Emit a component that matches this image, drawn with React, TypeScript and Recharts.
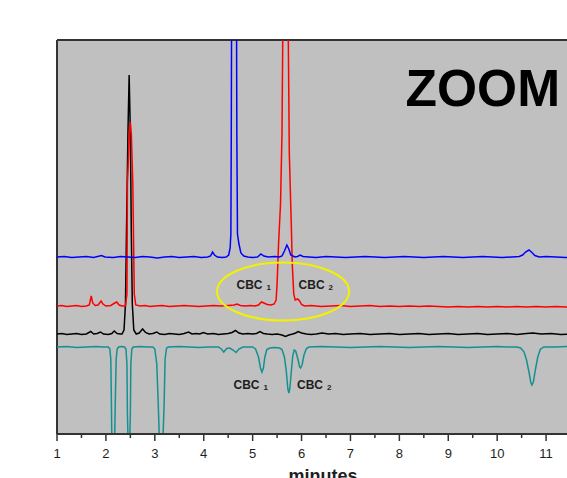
import {
  LineChart,
  Line,
  XAxis,
  YAxis,
  CartesianGrid,
  ReferenceLine,
  ReferenceDot,
} from 'recharts'

// Chromatogram traces, [minutes, signal]. Signal in arbitrary units,
// each trace offset so they stack like the original overlay.
const blueTrace: [number, number][] = [
  [1.0, 177], [1.15, 177.5], [1.3, 176.5], [1.45, 177], [1.6, 177.5], [1.75, 176.5],
  [1.91, 178.5], [1.98, 177], [2.15, 176.5], [2.3, 177.5], [2.45, 177], [2.6, 176.5],
  [2.75, 177.5], [2.9, 177], [3.05, 176], [3.2, 177], [3.35, 177.5], [3.5, 176.5],
  [3.65, 177], [3.8, 177.5], [3.95, 176.5], [4.08, 177], [4.14, 178], [4.18, 182],
  [4.22, 179], [4.28, 177], [4.38, 176.5], [4.46, 177], [4.51, 179], [4.54, 186],
  [4.555, 200], [4.563, 300], [4.57, 420], [4.6, 700], [4.62, 760], [4.64, 700],
  [4.67, 420], [4.677, 300], [4.69, 200], [4.72, 190], [4.76, 181], [4.82, 178],
  [4.9, 177], [5.0, 176.5], [5.1, 177], [5.17, 180], [5.23, 178], [5.32, 177],
  [5.45, 177.5], [5.55, 177], [5.6, 178], [5.65, 183], [5.7, 189], [5.74, 185],
  [5.78, 179], [5.86, 177], [5.92, 177.5], [5.97, 179], [6.03, 177.5], [6.15, 177],
  [6.3, 176.5], [6.5, 177.5], [6.7, 177], [6.9, 176.5], [7.1, 177], [7.3, 177.5],
  [7.5, 177], [7.7, 176.5], [7.9, 177], [8.1, 177.5], [8.3, 177], [8.5, 176.5],
  [8.7, 177], [8.9, 177.5], [9.1, 177], [9.3, 176.5], [9.5, 177], [9.7, 177.5],
  [9.9, 177], [10.1, 176.5], [10.3, 177], [10.45, 177.5], [10.52, 179], [10.58, 182],
  [10.65, 184], [10.71, 181.5], [10.77, 178.5], [10.86, 177], [11.0, 177.5],
  [11.2, 177], [11.4, 176.5], [11.6, 177], [12, 177],
]

const redTrace: [number, number][] = [
  [1.0, 128], [1.1, 128.5], [1.2, 127.5], [1.3, 128], [1.4, 128.5], [1.5, 127.5],
  [1.6, 128], [1.66, 129], [1.7, 138], [1.73, 131], [1.78, 128.5], [1.84, 129],
  [1.9, 133], [1.94, 130], [2.0, 128], [2.1, 128.5], [2.18, 131], [2.22, 132],
  [2.27, 129], [2.33, 128], [2.4, 128], [2.43, 140], [2.44, 250], [2.48, 300],
  [2.5, 312], [2.52, 300], [2.55, 250], [2.58, 140], [2.61, 129], [2.7, 128],
  [2.8, 128.5], [2.9, 127.5], [3.0, 128], [3.15, 128.5], [3.3, 127.5], [3.45, 128],
  [3.6, 128.5], [3.75, 128], [3.9, 127.5], [4.05, 128], [4.2, 128.5], [4.35, 128],
  [4.5, 128.5], [4.62, 129], [4.68, 130], [4.75, 128.5], [4.85, 128], [4.95, 128.5],
  [5.05, 128], [5.12, 129], [5.18, 132], [5.23, 131], [5.3, 129.5], [5.38, 129],
  [5.44, 130], [5.48, 134], [5.5, 150], [5.53, 190], [5.57, 230], [5.6, 300],
  [5.62, 420], [5.66, 560], [5.68, 570], [5.7, 540], [5.725, 420], [5.75, 280],
  [5.79, 210], [5.81, 170], [5.84, 140], [5.87, 134], [5.92, 135], [5.96, 133],
  [6.0, 129.5], [6.06, 128], [6.2, 128.5], [6.4, 127.5], [6.6, 128], [6.8, 128.5],
  [7.0, 127.5], [7.2, 128], [7.4, 128.5], [7.6, 127.5], [7.8, 128], [8.0, 127.5],
  [8.2, 128], [8.4, 127.5], [8.6, 128], [8.8, 127.5], [9.0, 127], [9.2, 127.5],
  [9.4, 127], [9.6, 127.5], [9.8, 127], [10.0, 127.5], [10.2, 127], [10.4, 127.5],
  [10.6, 127], [10.8, 127.5], [11.0, 127], [11.2, 127.5], [11.4, 127], [12, 127],
]

const blackTrace: [number, number][] = [
  [1.0, 100], [1.1, 100.5], [1.2, 99.5], [1.3, 100], [1.4, 100.5], [1.5, 99.5],
  [1.6, 100], [1.69, 102.5], [1.75, 100], [1.82, 100.5], [1.89, 102], [1.95, 100],
  [2.05, 99.5], [2.12, 100.5], [2.17, 103], [2.23, 100.5], [2.3, 100], [2.33, 100],
  [2.37, 104], [2.4, 130], [2.42, 200], [2.45, 300], [2.475, 359], [2.5, 300],
  [2.52, 200], [2.54, 130], [2.57, 104], [2.62, 100], [2.68, 101], [2.75, 105],
  [2.81, 101.5], [2.88, 100], [2.96, 100.5], [3.04, 102], [3.1, 100], [3.2, 99.5],
  [3.3, 100.5], [3.4, 100], [3.5, 99.5], [3.6, 100.5], [3.69, 102], [3.76, 100],
  [3.85, 100.5], [3.92, 100], [3.99, 101.5], [4.08, 100], [4.2, 100.5], [4.3, 99.5],
  [4.4, 100], [4.5, 100.5], [4.58, 101.5], [4.65, 103.5], [4.72, 101], [4.8, 100],
  [4.9, 100.5], [5.0, 100], [5.08, 100.5], [5.15, 102.5], [5.22, 100.5], [5.3, 100],
  [5.4, 99.5], [5.5, 100], [5.6, 99], [5.67, 97.5], [5.74, 99], [5.82, 100],
  [5.88, 101], [5.93, 102.5], [6.0, 101], [6.1, 100], [6.2, 99.5], [6.3, 100],
  [6.42, 101], [6.55, 100], [6.7, 100.5], [6.85, 99.5], [7.0, 100], [7.2, 100.5],
  [7.4, 99.5], [7.6, 100], [7.8, 100.5], [8.0, 99.5], [8.2, 100], [8.4, 100.5],
  [8.6, 99.5], [8.8, 100], [9.0, 100.5], [9.2, 99.5], [9.4, 100], [9.6, 100.5],
  [9.8, 99.5], [10.0, 100], [10.2, 100.5], [10.4, 99.5], [10.6, 100.5], [10.73, 101],
  [10.9, 100], [11.1, 100.5], [11.3, 99.5], [11.5, 100], [12, 100],
]

const tealTrace: [number, number][] = [
  [1.0, 87], [1.2, 87.5], [1.4, 86.5], [1.6, 87], [1.8, 87.5], [1.95, 87],
  [2.05, 87], [2.08, 85], [2.1, 75], [2.11, 40], [2.12, 0], [2.15, -40],
  [2.18, 0], [2.195, 40], [2.21, 75], [2.23, 85], [2.26, 87], [2.32, 87.5],
  [2.38, 87], [2.41, 85], [2.43, 70], [2.44, 20], [2.45, 0], [2.47, -40],
  [2.49, 0], [2.5, 20], [2.51, 70], [2.53, 85], [2.56, 87], [2.7, 87.5],
  [2.85, 87], [2.96, 87], [3.0, 85], [3.04, 70], [3.07, 30], [3.09, 0],
  [3.13, -40], [3.17, 0], [3.19, 30], [3.21, 75], [3.24, 86], [3.28, 87],
  [3.5, 87.5], [3.7, 87], [3.9, 86.5], [4.1, 87], [4.3, 87], [4.36, 85],
  [4.41, 82], [4.47, 85.5], [4.53, 86], [4.6, 84], [4.66, 81.5], [4.72, 85],
  [4.8, 87], [4.9, 87], [5.0, 87], [5.06, 85], [5.12, 77], [5.16, 66],
  [5.19, 62], [5.22, 66], [5.25, 77], [5.29, 84.5], [5.35, 86], [5.45, 86.5],
  [5.55, 86], [5.6, 84.5], [5.65, 77], [5.69, 62], [5.72, 45], [5.74, 41],
  [5.76, 45], [5.79, 62], [5.82, 78], [5.85, 84], [5.88, 83], [5.93, 74],
  [5.96, 67], [5.98, 66], [6.01, 69], [6.05, 79], [6.1, 85.5], [6.15, 87],
  [6.4, 87.5], [6.7, 87], [7.0, 86.5], [7.3, 87], [7.6, 87.5], [7.9, 87],
  [8.2, 86.5], [8.5, 87], [8.8, 87.5], [9.1, 87], [9.4, 86.5], [9.7, 87],
  [10.0, 87.5], [10.2, 87], [10.4, 87], [10.48, 86], [10.55, 82], [10.6, 74],
  [10.65, 62], [10.69, 51], [10.71, 49], [10.74, 52], [10.78, 64], [10.83, 77],
  [10.88, 84.5], [10.95, 87], [11.2, 87], [11.5, 87.5], [12, 87],
]

const majorTicks = [1, 2, 3, 4, 5, 6, 7, 8, 9, 10, 11]
const minorTicks = [1.5, 2.5, 3.5, 4.5, 5.5, 6.5, 7.5, 8.5, 9.5, 10.5, 11.5]

const toPoints = (trace: [number, number][]) => trace.map(([x, y]) => ({ x, y }))

const W = 600
const H = 478
const AXIS_COLOR = '#333'
const TEXT_COLOR = '#1e1e1e'
const FONT = '"Liberation Sans", Arial, sans-serif'

function AxisTick(props: any) {
  const { x, y, payload } = props
  const v = payload.value as number
  const isMajor = Number.isInteger(v)
  return (
    <g>
      <line x1={x} x2={x} y1={y} y2={y + (isMajor ? 7 : 4)} stroke={AXIS_COLOR} strokeWidth={1.5} />
      {isMajor && (
        <text x={x} y={y + 24} textAnchor="middle" fontSize={13} fontFamily={FONT} fill={TEXT_COLOR}>
          {v}
        </text>
      )}
    </g>
  )
}

const cbcLabel = (sub: string) => (p: any) => (
  <text x={p.cx} y={p.cy} fontSize={12} fontWeight="bold" fontFamily={FONT} fill={TEXT_COLOR}>
    CBC
    <tspan fontSize={8} dx={4} dy={1}>
      {sub}
    </tspan>
  </text>
)

export default function App() {
  const ticks = [...majorTicks, ...minorTicks].sort((a, b) => a - b)
  return (
    <div style={{ position: 'absolute', left: 0, top: 0, width: 567, height: 478, overflow: 'hidden', background: '#fff' }}>
      <LineChart width={W} height={H} margin={{ top: 40, right: 5, left: 57, bottom: 14 }}>
        <CartesianGrid horizontal={false} vertical={false} fill="#c0c0c0" />
        <XAxis
          type="number"
          dataKey="x"
          domain={[1, 12]}
          ticks={ticks}
          interval={0}
          height={30}
          allowDataOverflow
          tickSize={0}
          tickMargin={0}
          tickLine={false}
          axisLine={{ stroke: AXIS_COLOR, strokeWidth: 2 }}
          tick={<AxisTick />}
        />
        <YAxis type="number" domain={[0, 394]} allowDataOverflow hide />
        <ReferenceLine x={1} stroke={AXIS_COLOR} strokeWidth={2} />
        <ReferenceLine y={394} stroke={AXIS_COLOR} strokeWidth={2} />

        <Line data={toPoints(tealTrace)} dataKey="y" type="linear" dot={false} stroke="#159090" strokeWidth={1.5} isAnimationActive={false} />
        <Line data={toPoints(blackTrace)} dataKey="y" type="linear" dot={false} stroke="#000000" strokeWidth={1.5} isAnimationActive={false} />
        <Line data={toPoints(redTrace)} dataKey="y" type="linear" dot={false} stroke="#ff0000" strokeWidth={1.5} isAnimationActive={false} />
        <Line data={toPoints(blueTrace)} dataKey="y" type="linear" dot={false} stroke="#0000ff" strokeWidth={1.5} isAnimationActive={false} />

        <ReferenceDot
          x={5.622}
          y={142.5}
          r={1}
          shape={(p: any) => <ellipse cx={p.cx} cy={p.cy} rx={66} ry={29} fill="none" stroke="#f2f200" strokeWidth={2} />}
        />
        <ReferenceDot x={4.671} y={145.5} r={1} shape={cbcLabel('1')} />
        <ReferenceDot x={5.939} y={145.5} r={1} shape={cbcLabel('2')} />
        <ReferenceDot x={4.609} y={45.3} r={1} shape={cbcLabel('1')} />
        <ReferenceDot x={5.908} y={45.3} r={1} shape={cbcLabel('2')} />
        <ReferenceDot
          x={8.127}
          y={328}
          r={1}
          shape={(p: any) => (
            <text x={p.cx} y={p.cy} fontSize={51.5} fontWeight="bold" fontFamily={FONT} fill="#000">
              ZOOM
            </text>
          )}
        />
        <ReferenceDot
          x={6.44}
          y={-48}
          r={1}
          ifOverflow="visible"
          shape={(p: any) => (
            <text x={p.cx} y={p.cy} textAnchor="middle" fontSize={18} fontWeight="bold" fontFamily={FONT} fill={TEXT_COLOR}>
              minutes
            </text>
          )}
        />
      </LineChart>
    </div>
  )
}
